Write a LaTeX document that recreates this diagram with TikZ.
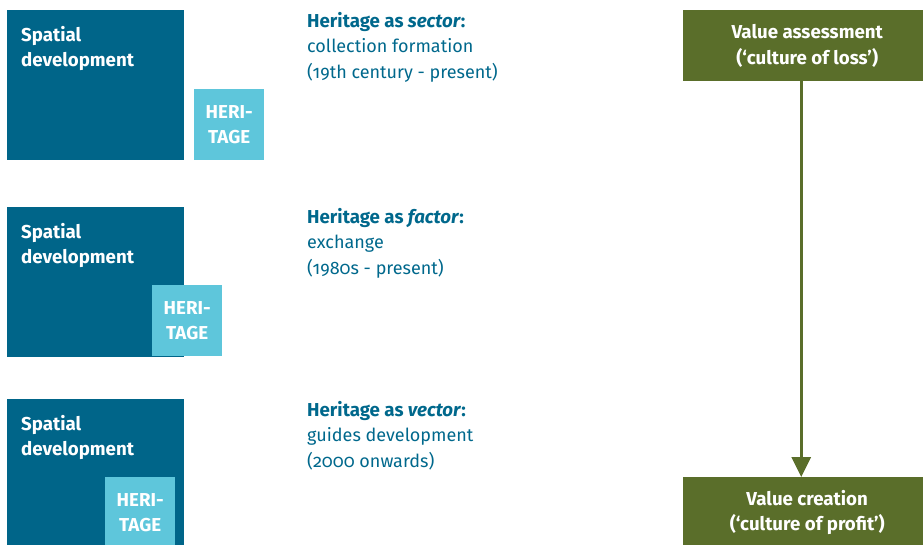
\documentclass[tikz,border=0pt]{standalone}
\usepackage{fontspec}
\setmainfont[Numbers=OldStyle]{Fira Sans}
\usetikzlibrary{arrows.meta}
\definecolor{spatialblue}{RGB}{0,101,137}
\definecolor{heritagecyan}{RGB}{94,198,219}
\definecolor{textblue}{RGB}{0,104,140}
\definecolor{valuegreen}{RGB}{90,110,42}
\newcommand{\diagfont}{\fontsize{18}{25.5}\selectfont}
\newcommand{\diagbold}{\fontsize{18.7}{25.5}\selectfont\bfseries}

\begin{document}
\begin{tikzpicture}[x=1pt,y=-1pt]
	\tikzstyle{sp}=[rectangle, fill=spatialblue, minimum width=177pt, minimum height=150pt, inner sep=0pt, anchor=north west]
	\tikzstyle{her}=[rectangle, fill=heritagecyan, text=white, font=\diagbold, align=center, minimum width=70pt, minimum height=71pt, inner sep=0pt, anchor=north west]
	\tikzstyle{splabel}=[text=white, font=\diagbold, align=left, inner sep=0pt, anchor=north west]
	\tikzstyle{head}=[text=textblue, font=\diagfont, align=left, inner sep=0pt, anchor=north west]
	\tikzstyle{val}=[rectangle, fill=valuegreen, text=white, font=\diagbold, align=center, minimum width=248pt, minimum height=71pt, inner sep=0pt, anchor=north west]

	\useasboundingbox (0,0) rectangle (923,544);
	\clip (0,0) rectangle (923,544);

	% sector
	\node[sp] (sp1) at (7,10) {};
	\node[her] (her1) at (194,89) {HERI-\\TAGE};
	\node[splabel] (sd1) at ([shift={(14,16)}]sp1.north west) {Spatial\\development};
	\node[head] (h1) at (307,12) {{\diagbold Heritage as \textit{sector}:}\\collection formation\\(19th century - present)};

	% factor
	\node[sp] (sp2) at (7,207) {};
	\node[her] (her2) at (152,285) {HERI-\\TAGE};
	\node[splabel] (sd2) at ([shift={(14,16)}]sp2.north west) {Spatial\\development};
	\node[head] (h2) at (307,208) {{\diagbold Heritage as \textit{factor}:}\\exchange\\(1980s - present)};

	% vector
	\node[sp] (sp3) at (7,399) {};
	\node[her] (her3) at (105,477) {HERI-\\TAGE};
	\node[splabel] (sd3) at ([shift={(14,16)}]sp3.north west) {Spatial\\development};
	\node[head] (h3) at (307,401) {{\diagbold Heritage as \textit{vector}:}\\guides development\\(2000 onwards)};

	% values
	\node[val] (va) at (683,10) {Value assessment\\(‘culture of loss’)};
	\node[val] (vc) at (683,477) {Value creation\\(‘culture of profit’)};
	\draw[-{Triangle[width=19pt,length=20pt]}, line width=3pt, valuegreen] ([xshift=-6pt]va.south) -- ([xshift=-6pt]vc.north);
\end{tikzpicture}
\end{document}
